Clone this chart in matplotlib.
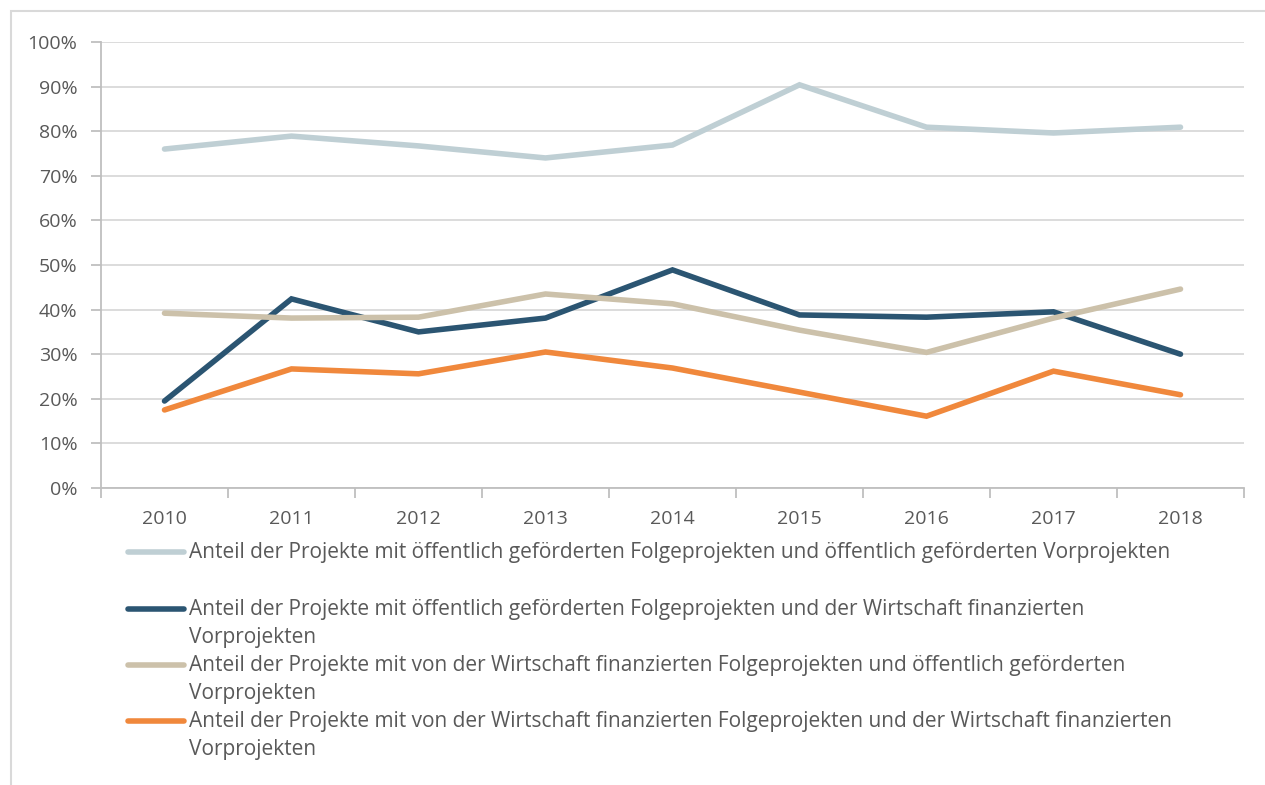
import matplotlib
matplotlib.use("Agg")
import matplotlib.pyplot as plt
from matplotlib.lines import Line2D
from matplotlib.patches import Rectangle
from matplotlib.ticker import PercentFormatter, FixedLocator

plt.rcParams['font.family'] = ['Open Sans', 'DejaVu Sans']

years = ["2010", "2011", "2012", "2013", "2014", "2015", "2016", "2017", "2018"]
oeff_oeff = [76.0, 78.9, 76.7, 74.0, 76.9, 90.4, 80.9, 79.6, 80.9]
oeff_wirt = [19.5, 42.4, 35.0, 38.1, 48.9, 38.8, 38.3, 39.5, 30.0]
wirt_oeff = [39.2, 38.1, 38.3, 43.5, 41.3, 35.4, 30.4, 38.1, 44.6]
wirt_wirt = [17.5, 26.7, 25.6, 30.5, 26.9, 21.5, 16.1, 26.2, 20.9]

series = [oeff_oeff, oeff_wirt, wirt_oeff, wirt_wirt]
colors = ["#BFCFD4", "#2B5572", "#CCC1AA", "#F0883C"]
labels = [
    "Anteil der Projekte mit öffentlich geförderten Folgeprojekten und öffentlich geförderten Vorprojekten",
    "Anteil der Projekte mit öffentlich geförderten Folgeprojekten und der Wirtschaft finanzierten\nVorprojekten",
    "Anteil der Projekte mit von der Wirtschaft finanzierten Folgeprojekten und öffentlich geförderten\nVorprojekten",
    "Anteil der Projekte mit von der Wirtschaft finanzierten Folgeprojekten und der Wirtschaft finanzierten\nVorprojekten",
]

W, H = 1265, 785
fig = plt.figure(figsize=(W / 100, H / 100), dpi=100)
fig.patch.set_facecolor("white")

# outer chart border (partly cropped)
fig.add_artist(Rectangle((11 / W, -0.1), 1.2, 1 - 11 / H + 0.1, transform=fig.transFigure,
                         fill=False, edgecolor="#D9D9D9", linewidth=1.5))

ax = fig.add_axes([101 / W, 1 - 488 / H, (1244 - 101) / W, (488 - 42) / H])
x = list(range(len(years)))
for vals, c in zip(series, colors):
    ax.plot(x, vals, color=c, linewidth=4, solid_capstyle="round", solid_joinstyle="miter", zorder=3)

ax.set_xlim(-0.5, len(years) - 0.5)
ax.set_ylim(0, 100)
ax.yaxis.set_major_locator(FixedLocator(range(0, 101, 10)))
ax.yaxis.set_major_formatter(PercentFormatter(decimals=0))
ax.set_xticks(x)
ax.set_xticklabels(years)
ax.xaxis.set_minor_locator(FixedLocator([i - 0.5 for i in range(len(years) + 1)]))
ax.tick_params(axis="x", which="major", length=0, pad=16, labelsize=14, labelcolor="#595959")
ax.tick_params(axis="x", which="minor", length=7, width=1.3, color="#BFBFBF", direction="out")
ax.tick_params(axis="y", length=7, width=1.3, color="#BFBFBF", labelsize=14, labelcolor="#595959", pad=10)
ax.grid(axis="y", color="#D9D9D9", linewidth=1.3, zorder=0)
for s in ["top", "right"]:
    ax.spines[s].set_visible(False)
for s in ["left", "bottom"]:
    ax.spines[s].set_color("#BFBFBF")
    ax.spines[s].set_linewidth(1.3)

# legend
ys = [552, 609, 665, 721]
for y, c, lab in zip(ys, colors, labels):
    fig.add_artist(Line2D([128 / W, 184 / W], [1 - y / H, 1 - y / H], transform=fig.transFigure,
                          color=c, linewidth=4, solid_capstyle="round"))
    fig.text(189 / W, 1 - (y - 10) / H, lab, ha="left", va="top", fontsize=15, color="#595959",
             linespacing=1.42)

fig.savefig("out.png", dpi=100, facecolor="white")
